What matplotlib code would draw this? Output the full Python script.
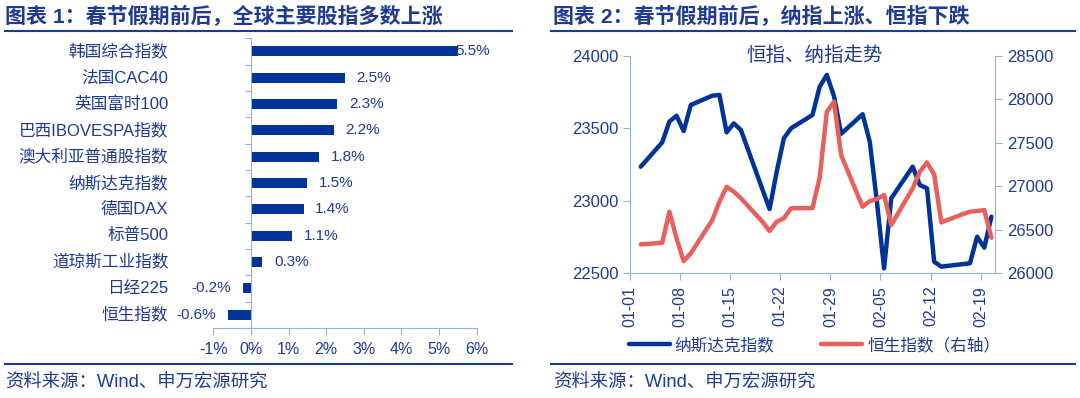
import matplotlib
matplotlib.use("Agg")
import matplotlib.pyplot as plt
import matplotlib.dates as mdates
from matplotlib.lines import Line2D
import numpy as np
import pandas as pd

plt.rcParams['font.family'] = ['Liberation Sans', 'Noto Sans CJK SC']

# chart 1: index changes around the spring festival (%)
index_names = ["韩国综合指数", "法国CAC40", "英国富时100", "巴西IBOVESPA指数", "澳大利亚普通股指数",
               "纳斯达克指数", "德国DAX", "标普500", "道琼斯工业指数", "日经225", "恒生指数"]
index_changes = [5.5, 2.5, 2.3, 2.2, 1.8, 1.5, 1.4, 1.1, 0.3, -0.2, -0.6]

# chart 2: nasdaq and hang seng daily closes
nasdaq_dates = ["2026-01-02", "2026-01-05", "2026-01-06", "2026-01-07", "2026-01-08", "2026-01-09",
                "2026-01-12", "2026-01-13", "2026-01-14", "2026-01-15", "2026-01-16",
                "2026-01-20", "2026-01-21", "2026-01-22", "2026-01-23",
                "2026-01-26", "2026-01-27", "2026-01-28", "2026-01-29", "2026-01-30",
                "2026-02-02", "2026-02-03", "2026-02-04", "2026-02-05", "2026-02-06",
                "2026-02-09", "2026-02-10", "2026-02-11", "2026-02-12", "2026-02-13",
                "2026-02-17", "2026-02-18", "2026-02-19", "2026-02-20"]
nasdaq_vals = [23235, 23403, 23546, 23587, 23481, 23661,
               23725, 23730, 23472, 23534, 23488,
               22943, 23201, 23431, 23500,
               23592, 23787, 23868, 23722, 23462,
               23597, 23408, 22994, 22534, 23017,
               23235, 23109, 23086, 22580, 22546,
               22569, 22752, 22677, 22890]

hsi_dates = ["2026-01-02", "2026-01-05", "2026-01-06", "2026-01-07", "2026-01-08", "2026-01-09",
             "2026-01-12", "2026-01-13", "2026-01-14", "2026-01-15", "2026-01-16",
             "2026-01-19", "2026-01-20", "2026-01-21", "2026-01-22", "2026-01-23",
             "2026-01-26", "2026-01-27", "2026-01-28", "2026-01-29", "2026-01-30",
             "2026-02-02", "2026-02-03", "2026-02-04", "2026-02-05", "2026-02-06",
             "2026-02-09", "2026-02-10", "2026-02-11", "2026-02-12", "2026-02-13",
             "2026-02-16", "2026-02-17", "2026-02-18", "2026-02-19", "2026-02-20"]
hsi_vals = [26333, 26350, 26708, 26402, 26141, 26230,
            26612, 26823, 26995, 26938, 26862,
            26593, 26486, 26593, 26632, 26747,
            26750, 27100, 27857, 27972, 27359,
            26765, 26830, 26854, 26900, 26555,
            26977, 27168, 27275, 27135, 26585,
            26680, 26708, 26716, 26727, 26409]

DARK = '#1f3a93'
BLUE = '#003399'
AXIS = '#8db4e2'
RED = '#e8605c'

W, H = 1080, 398
fig = plt.figure(figsize=(W / 100, H / 100), dpi=100)


def px_box(x0, y0, x1, y1):
    # pixel box (top-left origin) -> figure fraction rect
    return [x0 / W, 1 - y1 / H, (x1 - x0) / W, (y1 - y0) / H]


# ---- left: bar chart
ax1 = fig.add_axes(px_box(213.3, 38.3, 476.5, 328))
ypos = np.arange(len(index_names))
ax1.barh(ypos, index_changes, height=0.38, color=BLUE)
ax1.set_xlim(-1, 6)
ax1.set_ylim(len(index_names) - 0.5, -0.5)
for s in ['top', 'right']:
    ax1.spines[s].set_visible(False)
ax1.spines['left'].set_position(('data', 0))
ax1.spines['left'].set_color(AXIS)
ax1.spines['bottom'].set_color(AXIS)
ax1.set_yticks(np.arange(-0.5, len(index_names)))
ax1.set_yticklabels([])
ax1.tick_params(axis='y', length=4, color=AXIS, direction='out')
xt = list(range(-1, 7))
ax1.set_xticks(xt)
ax1.set_xticklabels([f'{t}%' for t in xt])
ax1.tick_params(axis='x', length=5, color=AXIS, labelsize=11.5, labelcolor=DARK, pad=5)

for i, name in enumerate(index_names):
    ax1.text(-0.171, i, name, transform=ax1.get_yaxis_transform(), ha='right', va='center',
             fontsize=12, color=DARK)

for i, v in enumerate(index_changes):
    if v >= 5:
        off, ha = -1.5, 'left'
    elif v >= 0:
        off, ha = 8.5, 'left'
    else:
        off, ha = -9, 'right'
    ax1.annotate(f'{v:.1f}%', (v, i), xytext=(off, 0), textcoords='offset points',
                 ha=ha, va='center', fontsize=11, color=DARK)

# ---- right: line chart with twin axis
ax2 = fig.add_axes(px_box(630, 55.8, 995, 273.3))
ax3 = ax2.twinx()

nd = mdates.date2num(pd.to_datetime(nasdaq_dates))
hd = mdates.date2num(pd.to_datetime(hsi_dates))
l1, = ax2.plot(nd, nasdaq_vals, color=BLUE, lw=3.2, solid_joinstyle='round', solid_capstyle='round')
l2, = ax3.plot(hd, hsi_vals, color=RED, lw=3.2, solid_joinstyle='round', solid_capstyle='round')

ax2.set_ylim(22500, 24000)
ax3.set_ylim(26000, 28500)
ax2.set_yticks(range(22500, 24001, 500))
ax3.set_yticks(range(26000, 28501, 500))

tick_dates = pd.date_range('2026-01-01', '2026-02-19', freq='7D')
ax2.set_xticks(mdates.date2num(tick_dates) - 0.5)
ax2.set_xticklabels(tick_dates.strftime('%m-%d'), rotation=90)
start = mdates.date2num(pd.Timestamp('2026-01-01'))
end = mdates.date2num(pd.Timestamp('2026-02-20'))
ax2.set_xlim(start - 0.5, end + 0.5)

for s in ['top', 'right']:
    ax2.spines[s].set_visible(False)
for s in ['top', 'left', 'bottom']:
    ax3.spines[s].set_visible(False)
ax2.spines['left'].set_color(AXIS)
ax2.spines['bottom'].set_color(AXIS)
ax3.spines['right'].set_color(AXIS)
ax2.tick_params(axis='both', length=5, color=AXIS, labelsize=12, labelcolor=DARK)
ax2.tick_params(axis='x', labelsize=11.5, pad=4)
ax3.tick_params(axis='y', length=5, color=AXIS, labelsize=12, labelcolor=DARK)

ax2.text(0.507, 1.0, '恒指、纳指走势', transform=ax2.transAxes, ha='center', va='center',
         fontsize=14, color=DARK)

fig.legend([l1, l2], ['纳斯达克指数', '恒生指数（右轴）'], loc='center left',
           bbox_to_anchor=(629 / W, 1 - 345 / H), ncol=2, frameon=False, fontsize=12,
           handlelength=2.45, handletextpad=0.3, columnspacing=2.8, borderpad=0,
           borderaxespad=0, labelcolor=DARK)

# ---- titles, rules and source notes
fig.text(5 / W, 1 - 16 / H, '图表 1：春节假期前后，全球主要股指多数上涨', fontsize=15.1,
         fontweight='bold', color=DARK, va='center')
fig.text(553 / W, 1 - 16 / H, '图表 2：春节假期前后，纳指上涨、恒指下跌', fontsize=15.1,
         fontweight='bold', color=DARK, va='center')
for x0, x1 in [(5, 512), (551, 1075)]:
    fig.add_artist(Line2D([x0 / W, x1 / W], [1 - 31 / H] * 2, color=DARK, lw=1.5))
    fig.add_artist(Line2D([x0 / W, x1 / W], [1 - 364 / H] * 2, color=DARK, lw=1.5))
fig.text(5 / W, 1 - 383 / H, '资料来源：Wind、申万宏源研究', fontsize=13.2, color=DARK, va='center')
fig.text(553 / W, 1 - 383 / H, '资料来源：Wind、申万宏源研究', fontsize=13.2, color=DARK, va='center')

fig.savefig('out.png', dpi=100)
